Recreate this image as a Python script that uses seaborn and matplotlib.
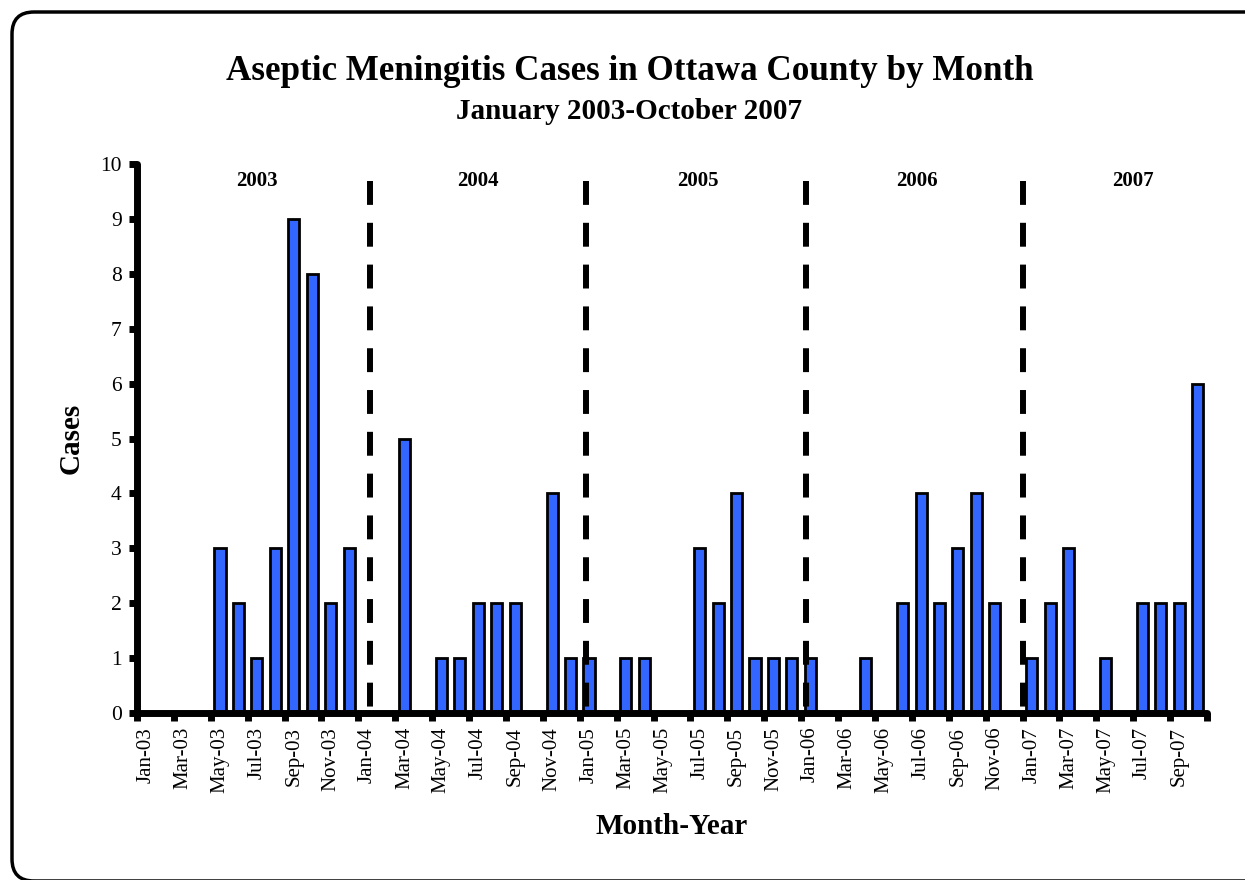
import matplotlib
matplotlib.use("Agg")
import matplotlib.pyplot as plt
from matplotlib.patches import FancyBboxPatch
from matplotlib.transforms import IdentityTransform
import seaborn as sns
import pandas as pd

# ---- data ----
months = ["Jan", "Feb", "Mar", "Apr", "May", "Jun", "Jul", "Aug", "Sep", "Oct", "Nov", "Dec"]
years = ["03", "04", "05", "06", "07"]
month_labels = [f"{m}-{y}" for y in years for m in months][:58]  # Jan-03 .. Oct-07
cases = [
    0, 0, 0, 0, 3, 2, 1, 3, 9, 8, 2, 3,   # 2003
    0, 0, 5, 0, 1, 1, 2, 2, 2, 0, 4, 1,   # 2004
    1, 0, 1, 1, 0, 0, 3, 2, 4, 1, 1, 1,   # 2005
    1, 0, 0, 1, 0, 2, 4, 2, 3, 4, 2, 0,   # 2006
    1, 2, 3, 0, 1, 0, 2, 2, 2, 6,         # 2007 (Jan-Oct)
]
year_names = ["2003", "2004", "2005", "2006", "2007"]
year_label_pos = [6.0, 18.0, 29.9, 41.8, 53.5]
year_divider_pos = [12.12, 23.82, 35.78, 47.54]

df = pd.DataFrame({"month": month_labels, "cases": cases})

sns.set_style("white")
plt.rcParams["font.family"] = ["Liberation Serif", "DejaVu Serif"]
plt.rcParams["text.color"] = "black"
plt.rcParams["axes.labelcolor"] = "black"
plt.rcParams["xtick.color"] = "black"
plt.rcParams["ytick.color"] = "black"

fig = plt.figure(figsize=(12.45, 8.8), dpi=100)
ax = fig.add_axes([0.110, 0.1898, 0.8595, 0.6238])

sns.barplot(data=df, x="month", y="cases", order=month_labels, color="#3366FF",
            saturation=1, width=0.6, edgecolor="black", linewidth=2, ax=ax, zorder=2)

ax.set_xlim(-0.5, len(month_labels) - 0.5)
ax.set_ylim(0, 10)
ax.set_yticks(range(0, 11))
ax.set_yticklabels([str(v) for v in range(0, 11)], fontsize=15.5)

major = list(range(0, len(month_labels), 2))
ax.set_xticks(major)
ax.set_xticklabels([month_labels[i] for i in major], rotation=90, fontsize=15)
ax.set_xticks([i - 0.5 for i in major] + [len(month_labels) - 0.5], minor=True)
ax.tick_params(axis="x", which="major", bottom=True, length=0, pad=10)
ax.tick_params(axis="x", which="minor", bottom=True, length=6, width=5,
               color="black", direction="out")
ax.tick_params(axis="y", which="major", left=True, length=6, width=5,
               color="black", direction="out", pad=5)

for s in ["top", "right"]:
    ax.spines[s].set_visible(False)
for s in ["left", "bottom"]:
    ax.spines[s].set_linewidth(5)
    ax.spines[s].set_color("black")
    ax.spines[s].set_capstyle("round")

for xp in year_divider_pos:
    ln, = ax.plot([xp, xp], [9.7, 0], color="black", linewidth=4.3, zorder=3,
                  solid_capstyle="butt", dash_capstyle="butt")
    ln.set_linestyle((0, (4.0, 3.0)))

for xp, nm in zip(year_label_pos, year_names):
    ax.text(xp, 9.69, nm, ha="center", va="center", fontsize=15, fontweight="bold")

ax.set_xlabel("Month-Year", fontsize=21, fontweight="bold", labelpad=14)
ax.set_ylabel("Cases", fontsize=21, fontweight="bold", labelpad=11)

fig.text(0.5055, 0.919, "Aseptic Meningitis Cases in Ottawa County by Month",
         ha="center", va="center", fontsize=25.2, fontweight="bold")
fig.text(0.5055, 0.873, "January 2003-October 2007",
         ha="center", va="center", fontsize=21, fontweight="bold")

border = FancyBboxPatch((12, -1), 1270, 869, boxstyle="round,pad=0,rounding_size=22",
                        transform=IdentityTransform(), facecolor="none",
                        edgecolor="black", linewidth=2.5, figure=fig)
fig.patches.append(border)

fig.savefig("out.png", dpi=100)
